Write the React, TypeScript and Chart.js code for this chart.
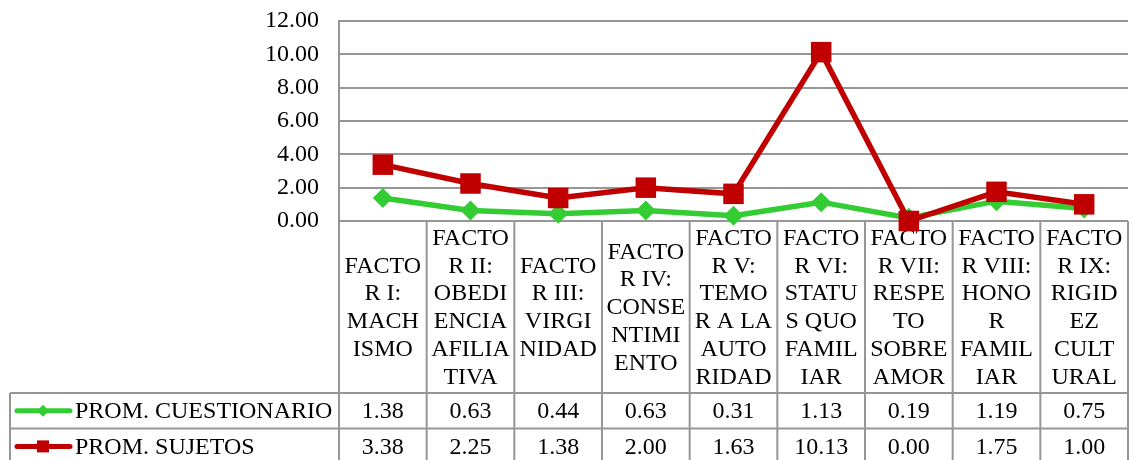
import React, { useEffect, useRef } from 'react';
import { Chart, registerables } from 'chart.js';
Chart.register(...registerables);

const categoryLines: string[][] = [
  ['FACTO', 'R I:', 'MACH', 'ISMO'],
  ['FACTO', 'R II:', 'OBEDI', 'ENCIA', 'AFILIA', 'TIVA'],
  ['FACTO', 'R III:', 'VIRGI', 'NIDAD'],
  ['FACTO', 'R IV:', 'CONSE', 'NTIMI', 'ENTO'],
  ['FACTO', 'R V:', 'TEMO', 'R A LA', 'AUTO', 'RIDAD'],
  ['FACTO', 'R VI:', 'STATU', 'S QUO', 'FAMIL', 'IAR'],
  ['FACTO', 'R VII:', 'RESPE', 'TO', 'SOBRE', 'AMOR'],
  ['FACTO', 'R VIII:', 'HONO', 'R', 'FAMIL', 'IAR'],
  ['FACTO', 'R IX:', 'RIGID', 'EZ', 'CULT', 'URAL'],
];
const categories = categoryLines.map((l) => l.join(' '));
const cuestionario = [1.38, 0.63, 0.44, 0.63, 0.31, 1.13, 0.19, 1.19, 0.75];
const sujetos = [3.38, 2.25, 1.38, 2.0, 1.63, 10.13, 0.0, 1.75, 1.0];
const seriesNames = ['PROM. CUESTIONARIO', 'PROM. SUJETOS'];
const yMin = 0;
const yMax = 12;
const yStep = 2;

const GREEN = '#33CC33';
const RED = '#C00000';
const GRID = '#969696';
const FONT = "'Liberation Serif', 'Times New Roman', serif";
const FONT_SIZE = 24;

const tablePlugin = {
  id: 'dataTable',
  beforeDatasetsDraw(chart: any) {
    const { ctx, chartArea } = chart;
    const left = chartArea.left;
    const right = chartArea.right;
    const n = categories.length;
    const w = (right - left) / n;
    const headTop = chartArea.bottom;
    const headBottom = 393;
    const rowH = 35.6;
    const bottom = chart.height + 5;
    const tableLeft = 10;
    ctx.save();
    ctx.strokeStyle = GRID;
    ctx.lineWidth = 2;
    for (let i = 0; i <= n; i++) {
      const x = left + i * w;
      ctx.beginPath();
      ctx.moveTo(x, headTop);
      ctx.lineTo(x, bottom);
      ctx.stroke();
    }
    ctx.beginPath();
    ctx.moveTo(tableLeft, headBottom);
    ctx.lineTo(tableLeft, bottom);
    ctx.stroke();
    for (let r = 0; r <= 2; r++) {
      const y = headBottom + r * rowH;
      ctx.beginPath();
      ctx.moveTo(tableLeft, y);
      ctx.lineTo(right, y);
      ctx.stroke();
    }
    ctx.fillStyle = '#000';
    ctx.font = `${FONT_SIZE}px ${FONT}`;
    ctx.textAlign = 'center';
    ctx.textBaseline = 'middle';
    const lh = 27.8;
    const hc = (headTop + headBottom) / 2;
    categoryLines.forEach((lines, i) => {
      const cx = chart.scales.x.getPixelForValue(i);
      const start = hc - ((lines.length - 1) * lh) / 2;
      lines.forEach((t, j) => ctx.fillText(t, cx, start + j * lh + 1));
    });
    const rows = [cuestionario, sujetos];
    const colors = [GREEN, RED];
    rows.forEach((vals, r) => {
      const cy = headBottom + r * rowH + rowH / 2;
      ctx.fillStyle = '#000';
      ctx.textAlign = 'center';
      vals.forEach((v, i) => {
        const cx = chart.scales.x.getPixelForValue(i);
        ctx.fillText(v.toFixed(2), cx, cy + 1);
      });
      ctx.strokeStyle = colors[r];
      ctx.lineWidth = 5;
      ctx.lineCap = 'round';
      ctx.beginPath();
      ctx.moveTo(17, cy);
      ctx.lineTo(70, cy);
      ctx.stroke();
      ctx.fillStyle = colors[r];
      if (r === 0) {
        ctx.beginPath();
        ctx.moveTo(43 - 6, cy);
        ctx.lineTo(43, cy - 6);
        ctx.lineTo(43 + 6, cy);
        ctx.lineTo(43, cy + 6);
        ctx.closePath();
        ctx.fill();
      } else {
        ctx.fillRect(43 - 6, cy - 6, 12, 12);
      }
      ctx.fillStyle = '#000';
      ctx.textAlign = 'left';
      ctx.fillText(seriesNames[r], 75, cy + 1);
    });
    ctx.restore();
  },
};

export default function App() {
  const ref = useRef<HTMLCanvasElement | null>(null);
  useEffect(() => {
    document.body.style.margin = '0';
    if (!ref.current) return;
    const chart = new Chart(ref.current, {
      type: 'line',
      data: {
        labels: categories,
        datasets: [
          {
            label: seriesNames[0],
            data: cuestionario,
            borderColor: GREEN,
            backgroundColor: GREEN,
            borderWidth: 5.5,
            pointStyle: 'rectRot',
            pointRadius: 10,
            pointBorderWidth: 0,
            tension: 0,
            clip: false as any,
            order: 1,
          },
          {
            label: seriesNames[1],
            data: sujetos,
            borderColor: RED,
            backgroundColor: RED,
            borderWidth: 5.5,
            pointStyle: 'rect',
            pointRadius: 14.5,
            pointBorderWidth: 0,
            tension: 0,
            clip: false as any,
            order: 0,
          },
        ],
      },
      options: {
        animation: false,
        responsive: true,
        maintainAspectRatio: false,
        layout: { autoPadding: false, padding: { left: 0, right: 6, top: 21, bottom: 239 } },
        plugins: { legend: { display: false }, tooltip: { enabled: false } },
        scales: {
          x: {
            display: false,
            offset: true,
          },
          y: {
            min: yMin,
            max: yMax,
            afterFit: (s: any) => {
              s.width = 339;
              s.paddingTop = 0;
              s.paddingBottom = 0;
            },
            ticks: {
              stepSize: yStep,
              padding: 20,
              color: '#000',
              font: { family: FONT, size: FONT_SIZE },
              callback: (v: any) => Number(v).toFixed(2),
            },
            grid: { color: GRID, lineWidth: 2, drawTicks: false },
            border: { display: true, color: GRID, width: 2 },
          },
        },
      },
      plugins: [tablePlugin],
    });
    return () => chart.destroy();
  }, []);
  return (
    <div style={{ width: 1134, height: 460, position: 'relative' }}>
      <canvas ref={ref} />
    </div>
  );
}
